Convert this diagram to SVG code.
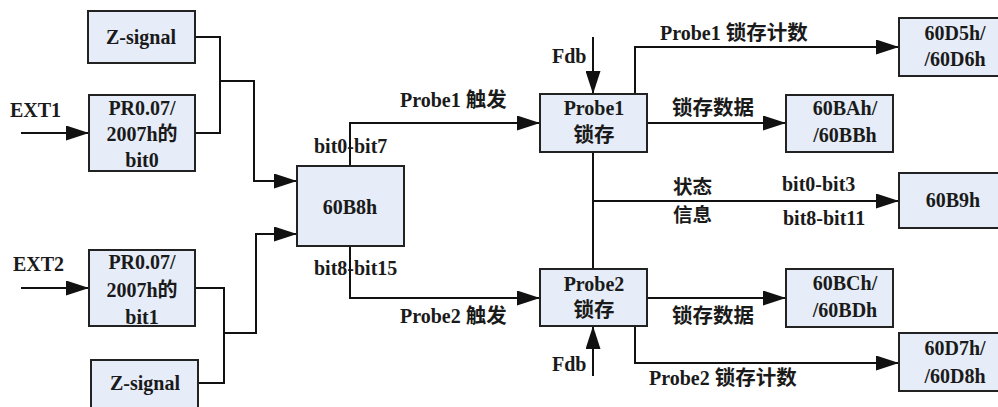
<svg xmlns="http://www.w3.org/2000/svg" width="998" height="407" viewBox="0 0 998 407">
<defs>
<style>
.box{fill:#E6EDF8;stroke:#222;stroke-width:2}
.ln{fill:none;stroke:#111;stroke-width:2}
.t{font-family:"Liberation Serif","Noto Sans CJK SC",serif;font-weight:bold;font-size:20px;fill:#1a1a1a}
.c{text-anchor:middle}
.cj{font-family:"Noto Sans CJK SC",sans-serif;font-weight:bold;font-size:20.5px}
.sm{font-size:19.5px}
</style>
<marker id="ah" markerUnits="userSpaceOnUse" markerWidth="23" markerHeight="15" refX="23" refY="7.5" orient="auto">
<path d="M0,0 L23,7.5 L0,15 z" fill="#111"/>
</marker>
</defs>
<rect width="998" height="407" fill="#fff"/>

<g id="connectors">
<path class="ln" d="M21,133 H89" marker-end="url(#ah)"/>
<path class="ln" d="M21,288 H89" marker-end="url(#ah)"/>
<path class="ln" d="M195,37 H220 V133 H195"/>
<path class="ln" d="M220,81 H254 V181 H297" marker-end="url(#ah)"/>
<path class="ln" d="M195,288 H224 V383 H198"/>
<path class="ln" d="M224,333 H256 V234 H297" marker-end="url(#ah)"/>
<path class="ln" d="M350,166 V123 H540" marker-end="url(#ah)"/>
<path class="ln" d="M350,246 V298 H540" marker-end="url(#ah)"/>
<path class="ln" d="M593,37 V94" marker-end="url(#ah)"/>
<path class="ln" d="M593,376 V326" marker-end="url(#ah)"/>
<path class="ln" d="M593,152 V269"/>
<path class="ln" d="M593,201 H899" marker-end="url(#ah)"/>
<path class="ln" d="M635,94 V47 H899" marker-end="url(#ah)"/>
<path class="ln" d="M647,123 H786" marker-end="url(#ah)"/>
<path class="ln" d="M647,298 H786" marker-end="url(#ah)"/>
<path class="ln" d="M635,326 V363 H899" marker-end="url(#ah)"/>
</g>

<g id="labels">
<text class="t" x="10" y="117">EXT1</text>
<text class="t" x="13" y="271">EXT2</text>
<text class="t" x="314" y="153">bit0-bit7</text>
<text class="t" x="314" y="275">bit8-bit15</text>
<text class="t" x="400" y="107">Probe1 <tspan class="cj">触发</tspan></text>
<text class="t" x="400" y="323">Probe2 <tspan class="cj">触发</tspan></text>
<text class="t" x="552" y="63">Fdb</text>
<text class="t" x="552" y="371">Fdb</text>
<text class="t" x="660" y="40">Probe1 <tspan class="cj">锁存计数</tspan></text>
<text class="t cj" x="672" y="115">锁存数据</text>
<text class="t cj sm" x="673" y="194">状态</text>
<text class="t cj sm" x="673" y="222">信息</text>
<text class="t" x="782" y="191">bit0-bit3</text>
<text class="t" x="783" y="225">bit8-bit11</text>
<text class="t cj" x="672" y="323">锁存数据</text>
<text class="t" x="649" y="385">Probe2 <tspan class="cj">锁存计数</tspan></text>
</g>

<g id="zsignal1">
<rect class="box" x="88" y="11" width="107" height="52"/>
<text class="t c" x="141" y="44">Z-signal</text>
</g>
<g id="pr1">
<rect class="box" x="89" y="95" width="106" height="76"/>
<text class="t c" x="142" y="115">PR0.07/</text>
<text class="t c" x="142" y="141">2007h的</text>
<text class="t c" x="142" y="167">bit0</text>
</g>
<g id="pr2">
<rect class="box" x="89" y="250" width="106" height="76"/>
<text class="t c" x="142" y="269">PR0.07/</text>
<text class="t c" x="142" y="297">2007h的</text>
<text class="t c" x="142" y="324">bit1</text>
</g>
<g id="zsignal2">
<rect class="box" x="91" y="360" width="107" height="60"/>
<text class="t c" x="145" y="390">Z-signal</text>
</g>
<g id="reg60B8">
<rect class="box" x="297" y="166" width="107" height="80"/>
<text class="t c" x="350" y="214">60B8h</text>
</g>
<g id="probe1">
<rect class="box" x="540" y="94" width="107" height="58"/>
<text class="t c" x="594" y="115">Probe1</text>
<text class="t c cj" x="594" y="142">锁存</text>
</g>
<g id="probe2">
<rect class="box" x="540" y="269" width="107" height="57"/>
<text class="t c" x="594" y="291">Probe2</text>
<text class="t c cj" x="594" y="317">锁存</text>
</g>
<g id="reg60D5">
<rect class="box" x="899" y="18" width="104" height="58"/>
<text class="t c" x="955" y="40">60D5h/</text>
<text class="t c" x="955" y="66">/60D6h</text>
</g>
<g id="reg60BA">
<rect class="box" x="786" y="95" width="107" height="57"/>
<text class="t c" x="845" y="115">60BAh/</text>
<text class="t c" x="845" y="142">/60BBh</text>
</g>
<g id="reg60B9">
<rect class="box" x="899" y="173" width="104" height="55"/>
<text class="t c" x="953" y="207">60B9h</text>
</g>
<g id="reg60BC">
<rect class="box" x="786" y="269" width="107" height="58"/>
<text class="t c" x="845" y="290">60BCh/</text>
<text class="t c" x="845" y="317">/60BDh</text>
</g>
<g id="reg60D7">
<rect class="box" x="899" y="333" width="104" height="58"/>
<text class="t c" x="955" y="355">60D7h/</text>
<text class="t c" x="955" y="383">/60D8h</text>
</g>
</svg>
